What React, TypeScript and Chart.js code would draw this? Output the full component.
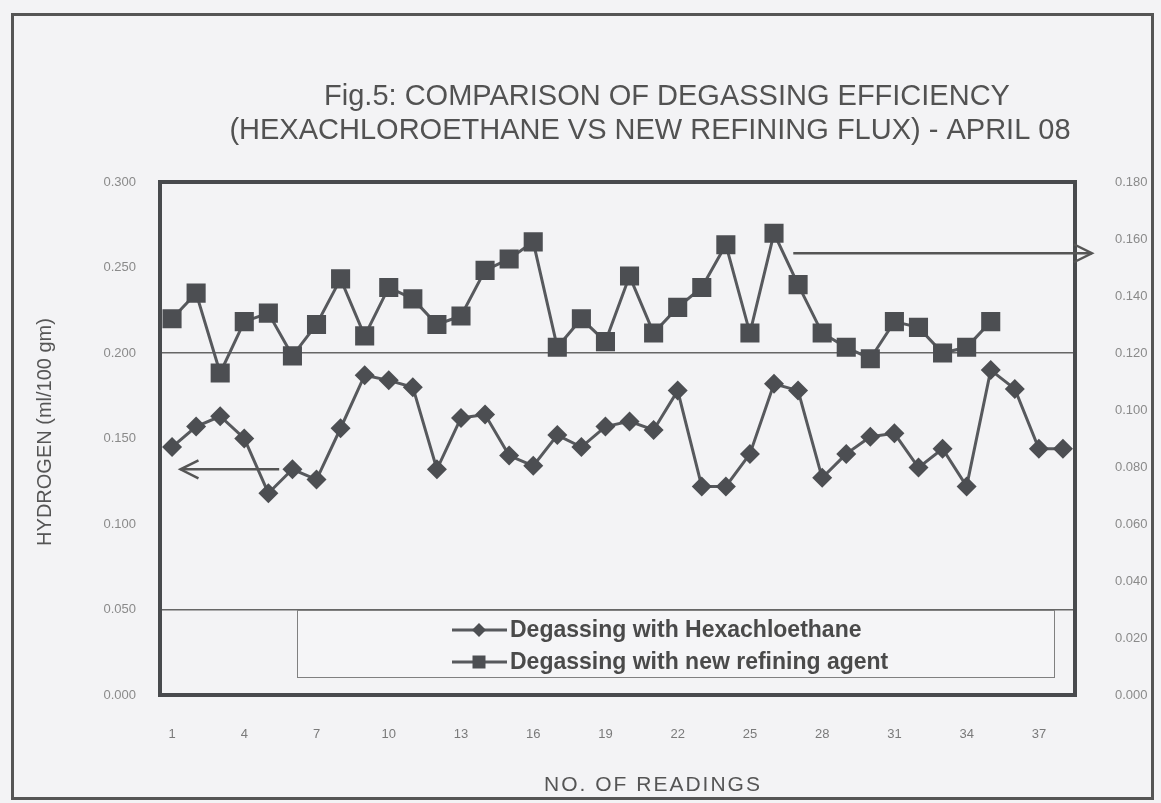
import React, { useEffect, useRef } from 'react';
import { Chart, registerables } from 'chart.js';

Chart.register(...registerables);

// ---- data ----
const readings = [
  '1', '2', '3', '4', '5', '6', '7', '8', '9', '10',
  '11', '12', '13', '14', '15', '16', '17', '18', '19', '20',
  '21', '22', '23', '24', '25', '26', '27', '28', '29', '30',
  '31', '32', '33', '34', '35', '36', '37', '38',
];

const hexachloroethane = [
  0.145, 0.157, 0.163, 0.150, 0.118, 0.132, 0.126, 0.156, 0.187, 0.184,
  0.180, 0.132, 0.162, 0.164, 0.140, 0.134, 0.152, 0.145, 0.157, 0.160,
  0.155, 0.178, 0.122, 0.122, 0.141, 0.182, 0.178, 0.127, 0.141, 0.151,
  0.153, 0.133, 0.144, 0.122, 0.190, 0.179, 0.144, 0.144,
];

const newRefiningAgent = [
  0.132, 0.141, 0.113, 0.131, 0.134, 0.119, 0.130, 0.146, 0.126, 0.143,
  0.139, 0.130, 0.133, 0.149, 0.153, 0.159, 0.122, 0.132, 0.124, 0.147,
  0.127, 0.136, 0.143, 0.158, 0.127, 0.162, 0.144, 0.127, 0.122, 0.118,
  0.131, 0.129, 0.120, 0.122, 0.131,
];

const seriesLabels = ['Degassing with Hexachloethane', 'Degassing with new refining agent'];
const titleLines = [
  'Fig.5: COMPARISON OF DEGASSING EFFICIENCY',
  '(HEXACHLOROETHANE VS NEW REFINING FLUX) - APRIL 08',
];
const xAxisTitle = 'NO. OF READINGS';
const yAxisTitle = 'HYDROGEN (ml/100 gm)';
const leftGridValues = [0.05, 0.2];
const leftArrowValue = 0.132;
const rightArrowValue = 0.155;

// ---- styling ----
const W = 1161;
const H = 803;
const PLOT = { left: 160, right: 1075, top: 182, bottom: 695 };
const BG = '#f3f3f5';
const INK = '#4c4e52';
const LINE = '#57595d';
const FONT = '"Liberation Sans", Arial, sans-serif';

function drawMarker(ctx: CanvasRenderingContext2D, style: string, x: number, y: number, r: number) {
  ctx.beginPath();
  if (style === 'rectRot') {
    ctx.moveTo(x - r, y);
    ctx.lineTo(x, y - r);
    ctx.lineTo(x + r, y);
    ctx.lineTo(x, y + r);
  } else {
    ctx.rect(x - r, y - r, 2 * r, 2 * r);
  }
  ctx.closePath();
  ctx.fill();
}

function drawArrow(ctx: CanvasRenderingContext2D, x1: number, y: number, x2: number) {
  const dir = x2 > x1 ? 1 : -1;
  ctx.beginPath();
  ctx.moveTo(x1, y);
  ctx.lineTo(x2, y);
  ctx.stroke();
  ctx.beginPath();
  ctx.moveTo(x2 - dir * 18, y - 9);
  ctx.lineTo(x2, y);
  ctx.lineTo(x2 - dir * 18, y + 9);
  ctx.stroke();
}

const decorPlugin = {
  id: 'decor',
  beforeDraw(chart: any) {
    const { ctx } = chart;
    ctx.save();
    ctx.fillStyle = BG;
    ctx.fillRect(0, 0, chart.width, chart.height);
    ctx.restore();
  },
  afterDraw(chart: any) {
    const { ctx, chartArea: a, scales } = chart;
    ctx.save();

    // outer frame
    ctx.strokeStyle = '#555';
    ctx.lineWidth = 3;
    ctx.strokeRect(12.5, 14.5, 1140, 784);

    // plot frame
    ctx.strokeStyle = '#484a4d';
    ctx.lineWidth = 4;
    ctx.strokeRect(a.left, a.top, a.right - a.left, a.bottom - a.top);

    // title
    ctx.fillStyle = '#525252';
    ctx.textBaseline = 'middle';
    ctx.textAlign = 'center';
    ctx.font = `29px ${FONT}`;
    ctx.fillText(titleLines[0], 667, 97);
    ctx.fillText(titleLines[1], 650, 131);

    // axis titles
    ctx.fillStyle = '#555';
    ctx.font = `21px ${FONT}`;
    (ctx as any).letterSpacing = '2px';
    ctx.fillText(xAxisTitle, 653, 785);
    (ctx as any).letterSpacing = '0px';
    ctx.font = `20px ${FONT}`;
    ctx.save();
    ctx.translate(45, 432);
    ctx.rotate(-Math.PI / 2);
    ctx.fillText(yAxisTitle, 0, 0);
    ctx.restore();

    // arrows
    const xs = scales.x;
    const x0 = xs.getPixelForValue(0);
    const step = xs.getPixelForValue(1) - x0;
    ctx.strokeStyle = '#555';
    ctx.lineWidth = 2.5;
    const yl = scales.y.getPixelForValue(leftArrowValue);
    drawArrow(ctx, x0 + 4.45 * step, yl, x0 + 0.35 * step);
    const yr = scales.y1.getPixelForValue(rightArrowValue);
    drawArrow(ctx, x0 + 25.8 * step, yr, x0 + 38.2 * step);

    // legend
    const lx = 297.5, ly = 610.5, lw = 757, lh = 67;
    ctx.fillStyle = '#f5f5f7';
    ctx.fillRect(lx, ly, lw, lh);
    ctx.strokeStyle = '#808080';
    ctx.lineWidth = 1;
    ctx.strokeRect(lx, ly, lw, lh);
    const styles = ['rectRot', 'rect'];
    const sizes = [7, 6.5];
    ctx.textAlign = 'left';
    ctx.font = `bold 23px ${FONT}`;
    for (let i = 0; i < 2; i++) {
      const yy = 630 + i * 32;
      ctx.strokeStyle = LINE;
      ctx.lineWidth = 3;
      ctx.beginPath();
      ctx.moveTo(452, yy);
      ctx.lineTo(507, yy);
      ctx.stroke();
      ctx.fillStyle = INK;
      drawMarker(ctx, styles[i], 479, yy, sizes[i]);
      ctx.fillStyle = '#4a4a4a';
      ctx.fillText(seriesLabels[i], 510, yy + 1);
    }
    ctx.restore();
  },
};

export default function App() {
  const ref = useRef<HTMLCanvasElement>(null);

  useEffect(() => {
    const canvas = ref.current;
    if (!canvas) return;
    const tickFont = { family: FONT, size: 13 };
    const chart = new Chart(canvas, {
      type: 'line',
      data: {
        labels: readings,
        datasets: [
          {
            label: seriesLabels[0],
            data: hexachloroethane,
            yAxisID: 'y',
            borderColor: LINE,
            borderWidth: 3,
            pointStyle: 'rectRot',
            pointRadius: 10,
            pointBackgroundColor: INK,
            pointBorderColor: INK,
            pointBorderWidth: 0,
            tension: 0,
          },
          {
            label: seriesLabels[1],
            data: newRefiningAgent,
            yAxisID: 'y1',
            borderColor: LINE,
            borderWidth: 3,
            pointStyle: 'rect',
            pointRadius: 13.5,
            pointBackgroundColor: INK,
            pointBorderColor: INK,
            pointBorderWidth: 0,
            tension: 0,
          },
        ],
      },
      options: {
        responsive: false,
        animation: false,
        devicePixelRatio: 1,
        layout: { padding: { left: 10, right: 10, top: PLOT.top, bottom: 10 } },
        plugins: {
          legend: { display: false },
          tooltip: { enabled: false },
          title: { display: false },
        },
        scales: {
          x: {
            type: 'category',
            offset: true,
            grid: { display: false },
            border: { display: false },
            ticks: {
              autoSkip: false,
              maxRotation: 0,
              padding: 24,
              color: '#7a7a7a',
              font: tickFont,
              callback: (_v: any, i: number) => (i % 3 === 0 ? readings[i] : ''),
            },
            afterFit: (s: any) => {
              s.height = H - PLOT.bottom - 10;
            },
          },
          y: {
            position: 'left',
            min: 0,
            max: 0.3,
            border: { display: false },
            grid: {
              drawTicks: false,
              lineWidth: 1.5,
              color: (c: any) =>
                c.tick && leftGridValues.some((g) => Math.abs(c.tick.value - g) < 1e-6)
                  ? '#666'
                  : 'rgba(0,0,0,0)',
            },
            ticks: {
              stepSize: 0.05,
              padding: 24,
              color: '#8a8a8a',
              font: tickFont,
              callback: (v: any) => Number(v).toFixed(3),
            },
            afterFit: (s: any) => {
              s.width = PLOT.left - 10;
            },
          },
          y1: {
            position: 'right',
            min: 0,
            max: 0.18,
            border: { display: false },
            grid: { display: false, drawTicks: false },
            ticks: {
              stepSize: 0.02,
              padding: 40,
              color: '#8a8a8a',
              font: tickFont,
              callback: (v: any) => Number(v).toFixed(3),
            },
            afterFit: (s: any) => {
              s.width = W - 10 - PLOT.right;
            },
          },
        },
      },
      plugins: [decorPlugin],
    } as any);
    return () => chart.destroy();
  }, []);

  return (
    <div style={{ position: 'fixed', left: 0, top: 0, width: W, height: H, background: BG }}>
      <canvas ref={ref} width={W} height={H} style={{ display: 'block', width: W, height: H }} />
    </div>
  );
}
